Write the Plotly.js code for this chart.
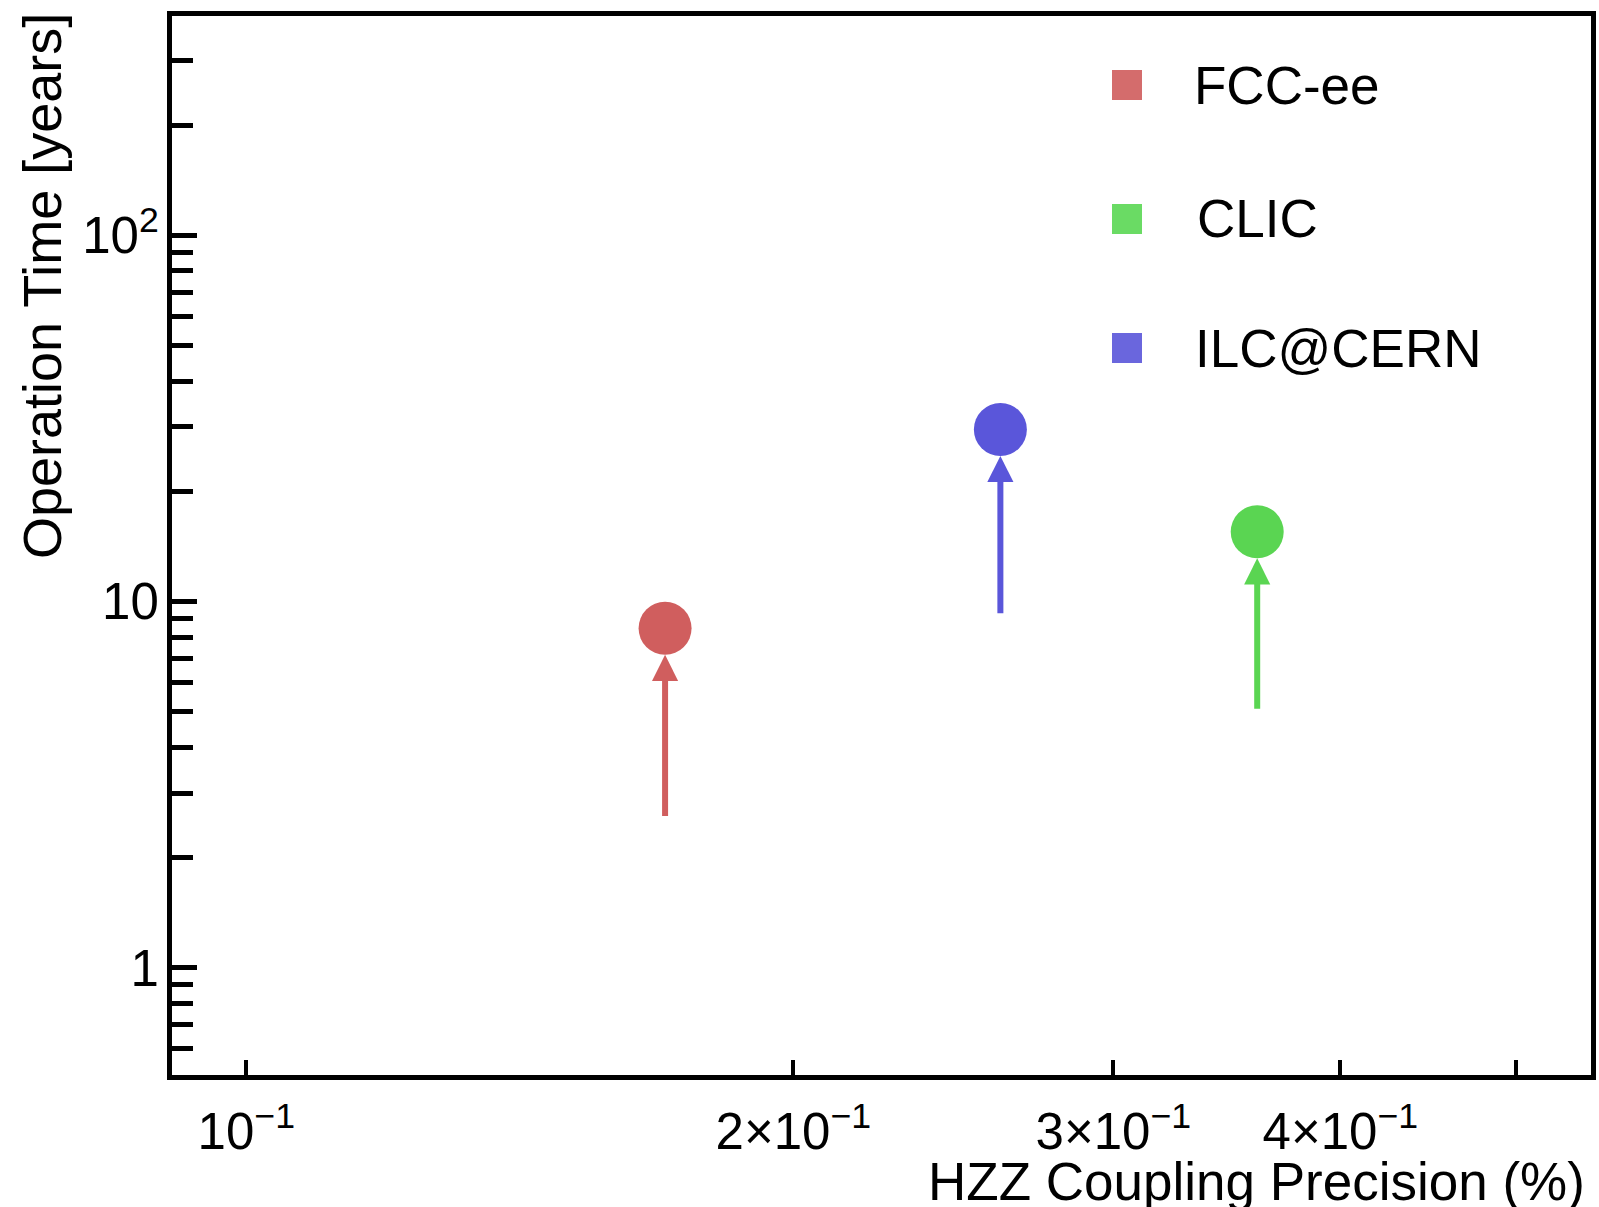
<!DOCTYPE html>
<html>
<head>
<meta charset="utf-8">
<script src="https://cdn.plot.ly/plotly-3.0.1.min.js"></script>
<style>
  html, body { margin: 0; padding: 0; background: #ffffff; }
  #chart { width: 1599px; height: 1207px; }
</style>
</head>
<body>
<div id="chart"></div>
<script>
// Projected HZZ coupling precision versus operation time for each collider
const colliders = ['FCC-ee', 'CLIC', 'ILC@CERN'];
const hzzPrecision = [0.17, 0.36, 0.26];          // %
const operationYears = [8.45, 15.5, 29.5];        // years
const arrowStartYears = [2.57, 5.05, 9.2];        // tail of each run-time arrow
const markerColors = ['#D05E5E', '#5AD552', '#5A56DA'];
const legendColors = ['#D46C6C', '#6ADB64', '#6A66DD'];

// Tick values and labels
const xTickVals = [0.1, 0.2, 0.3, 0.4, 0.5];
const xTickText = ['10<sup>\u22121</sup>', '2\u00d710<sup>\u22121</sup>', '3\u00d710<sup>\u22121</sup>', '4\u00d710<sup>\u22121</sup>', ''];
const yTickVals = [1, 10, 100];
const yTickText = ['1', '10', '10<sup>2</sup>'];
const yMinorVals = [0.6, 0.7, 0.8, 0.9, 2, 3, 4, 5, 6, 7, 8, 9, 20, 30, 40, 50, 60, 70, 80, 90, 200, 300];

const xRange = [-1.0409, -0.26];
const yRange = [-0.293, 2.599];

// Frame geometry in page pixels
const FONT = '"Liberation Sans", Arial, Helvetica, sans-serif';
const M = { l: 172, r: 8, t: 16, b: 132 };
const PW = 1599 - M.l - M.r;
const PH = 1207 - M.t - M.b;
const paperX = px => (px - M.l) / PW;
const paperY = py => (1207 - M.b - py) / PH;

// Data points
const traces = colliders.map((name, i) => ({
  type: 'scatter',
  mode: 'markers',
  name: name,
  x: [hzzPrecision[i]],
  y: [operationYears[i]],
  marker: { symbol: 'circle', size: 53, color: markerColors[i], line: { width: 0 } },
  showlegend: false,
  hoverinfo: 'x+y+name'
}));

// Run-time arrows pointing up to each point
const arrows = colliders.map((name, i) => ({
  xref: 'x', yref: 'y', axref: 'x', ayref: 'y',
  x: Math.log10(hzzPrecision[i]),
  y: Math.log10(operationYears[i]),
  ax: Math.log10(hzzPrecision[i]),
  ay: Math.log10(arrowStartYears[i]),
  text: '',
  showarrow: true,
  arrowhead: 2,
  arrowsize: 0.87,
  arrowwidth: 6,
  arrowcolor: markerColors[i],
  standoff: 26.5
}));

// Legend: colour swatches and names
const legendRowY = [85, 219, 348];
const legendTextX = [1192, 1195, 1193];
const legendSwatches = colliders.map((name, i) => ({
  type: 'rect', xref: 'paper', yref: 'paper',
  xsizemode: 'pixel', ysizemode: 'pixel',
  xanchor: paperX(1127), yanchor: paperY(legendRowY[i]),
  x0: -15, x1: 15, y0: -15, y1: 15,
  fillcolor: legendColors[i], line: { width: 0 }
}));
const legendLabels = colliders.map((name, i) => ({
  xref: 'paper', yref: 'paper',
  x: paperX(legendTextX[i]), y: paperY(legendRowY[i]),
  xanchor: 'left', yanchor: 'middle',
  text: name, showarrow: false,
  font: { family: FONT, size: 53, color: '#000' }
}));

// Axis titles
const axisTitles = [
  {
    xref: 'paper', yref: 'paper',
    x: paperX(1587), y: paperY(1181),
    xanchor: 'right', yanchor: 'middle',
    text: 'HZZ Coupling Precision (%)', showarrow: false,
    font: { family: FONT, size: 53, color: '#000' }
  },
  {
    xref: 'paper', yref: 'paper',
    x: paperX(42), y: paperY(286),
    xanchor: 'center', yanchor: 'middle', textangle: -90,
    text: 'Operation Time [years]', showarrow: false,
    font: { family: FONT, size: 54, color: '#000' }
  }
];

const layout = {
  width: 1599, height: 1207,
  margin: M,
  paper_bgcolor: '#ffffff',
  plot_bgcolor: '#ffffff',
  font: { family: FONT, color: '#000' },
  showlegend: false,
  xaxis: {
    type: 'log', range: xRange,
    tickmode: 'array', tickvals: xTickVals, ticktext: xTickText,
    ticks: 'inside', ticklen: 15, tickwidth: 4, tickcolor: '#000',
    tickfont: { family: FONT, size: 51, color: '#000' },
    ticklabelstandoff: 8,
    showline: true, linewidth: 5, linecolor: '#000', mirror: true,
    showgrid: false, zeroline: false
  },
  yaxis: {
    type: 'log', range: yRange,
    tickmode: 'array', tickvals: yTickVals, ticktext: yTickText,
    ticks: 'inside', ticklen: 25, tickwidth: 5, tickcolor: '#000',
    minor: { tickmode: 'array', tickvals: yMinorVals, ticks: 'inside', ticklen: 21, tickwidth: 5, tickcolor: '#000', showgrid: false },
    tickfont: { family: FONT, size: 51, color: '#000' },
    ticklabelstandoff: -2,
    showline: true, linewidth: 5, linecolor: '#000', mirror: true,
    showgrid: false, zeroline: false
  },
  // short ticks along the top and right edges of the frame
  xaxis2: {
    type: 'log', range: xRange, overlaying: 'x', side: 'top', anchor: 'y',
    tickmode: 'array', tickvals: xTickVals,
    ticks: 'inside', ticklen: 8, tickwidth: 4, tickcolor: '#000',
    showticklabels: false, showline: false, showgrid: false, zeroline: false
  },
  yaxis2: {
    type: 'log', range: yRange, overlaying: 'y', side: 'right', anchor: 'x',
    tickmode: 'array', tickvals: yTickVals,
    ticks: 'inside', ticklen: 9, tickwidth: 5, tickcolor: '#000',
    minor: { tickmode: 'array', tickvals: yMinorVals, ticks: 'inside', ticklen: 8, tickwidth: 5, tickcolor: '#000', showgrid: false },
    showticklabels: false, showline: false, showgrid: false, zeroline: false
  },
  shapes: legendSwatches,
  annotations: arrows.concat(legendLabels, axisTitles)
};

Plotly.newPlot('chart', traces, layout, { staticPlot: true, displayModeBar: false });
</script>
</body>
</html>
